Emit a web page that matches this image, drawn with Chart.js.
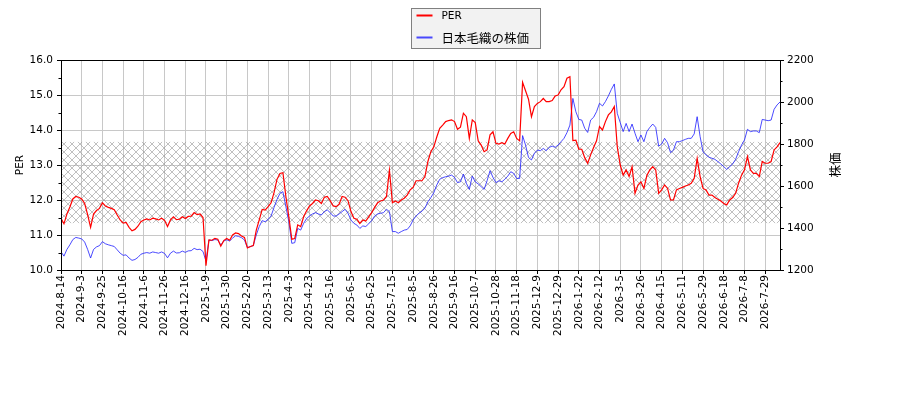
<!DOCTYPE html>
<html>
<head>
<meta charset="utf-8">
<script src="https://cdn.jsdelivr.net/npm/chart.js"></script>
<style>
html,body{margin:0;padding:0;background:#fff;}
#wrap{width:900px;height:400px;}
</style>
</head>
<body>
<div id="wrap"><canvas id="c" width="900" height="400"></canvas></div>
<script>
// ---- data ----
const tickLabels = ['2024-8-14','2024-9-3','2024-9-25','2024-10-16','2024-11-6','2024-11-26','2024-12-16',
  '2025-1-9','2025-1-30','2025-2-20','2025-3-13','2025-4-3','2025-4-23','2025-5-16','2025-6-5','2025-6-25',
  '2025-7-15','2025-8-5','2025-8-26','2025-9-16','2025-10-7','2025-10-28','2025-11-18','2025-12-9','2025-12-29',
  '2026-1-22','2026-2-12','2026-3-5','2026-3-26','2026-4-15','2026-5-11','2026-5-29','2026-6-18','2026-7-8','2026-7-29'];
const ticksEvery = 14;     // trading days between date labels
const sampleEvery = 2;     // trading days between samples
const totalDays = 487;

const perValues = [
  11.48,11.32,11.6,11.8,12.03,12.1,12.08,12.03,11.9,11.58,
  11.22,11.6,11.7,11.76,11.92,11.83,11.79,11.76,11.72,11.57,
  11.43,11.34,11.36,11.22,11.12,11.16,11.25,11.38,11.43,11.46,
  11.43,11.48,11.46,11.43,11.48,11.42,11.24,11.43,11.52,11.44,
  11.45,11.52,11.47,11.53,11.54,11.64,11.58,11.6,11.5,10.12,
  10.86,10.85,10.9,10.88,10.68,10.84,10.9,10.85,11.0,11.06,
  11.04,10.97,10.93,10.63,10.67,10.7,11.14,11.43,11.73,11.71,
  11.81,11.92,12.21,12.59,12.76,12.78,12.1,11.52,10.88,10.9,
  11.29,11.24,11.52,11.69,11.83,11.9,12.0,11.98,11.9,12.08,
  12.1,11.98,11.83,11.81,11.88,12.1,12.08,11.98,11.67,11.48,
  11.45,11.33,11.43,11.4,11.52,11.64,11.79,11.92,11.97,12.0,
  12.1,12.85,11.92,11.97,11.92,12.0,12.05,12.14,12.29,12.36,
  12.55,12.55,12.55,12.67,13.1,13.38,13.52,13.8,14.05,14.14,
  14.24,14.27,14.29,14.24,14.02,14.08,14.48,14.38,13.76,14.29,
  14.21,13.69,13.57,13.38,13.43,13.86,13.95,13.62,13.6,13.64,
  13.6,13.76,13.9,13.95,13.76,13.69,15.36,15.12,14.88,14.38,
  14.67,14.76,14.81,14.9,14.81,14.81,14.84,14.97,15.0,15.15,
  15.24,15.48,15.52,13.7,13.71,13.45,13.45,13.21,13.05,13.29,
  13.5,13.69,14.1,14.0,14.24,14.43,14.52,14.67,13.52,13.0,
  12.71,12.86,12.67,12.95,12.19,12.43,12.52,12.33,12.7,12.86,
  12.95,12.86,12.19,12.29,12.43,12.33,12.0,12.0,12.29,12.33,
  12.36,12.4,12.43,12.48,12.62,13.19,12.67,12.33,12.29,12.14,
  12.14,12.07,12.02,11.97,11.9,11.86,12.0,12.07,12.19,12.48,
  12.71,12.86,13.24,12.86,12.76,12.76,12.67,13.1,13.05,13.05,
  13.1,13.43,13.52,13.64
];

const priceValues = [
  1287,1266,1298,1320,1345,1355,1352,1348,1333,1298,
  1257,1298,1310,1316,1335,1325,1320,1316,1312,1296,
  1280,1270,1272,1257,1246,1250,1260,1275,1280,1283,
  1280,1286,1283,1280,1286,1279,1258,1280,1290,1281,
  1282,1290,1284,1291,1292,1303,1297,1299,1288,1242,
  1343,1340,1345,1343,1319,1338,1344,1338,1352,1363,
  1360,1354,1343,1307,1311,1317,1367,1407,1435,1430,
  1441,1457,1498,1536,1565,1573,1502,1430,1327,1330,
  1398,1390,1422,1445,1457,1467,1473,1467,1462,1478,
  1486,1473,1457,1457,1467,1478,1489,1470,1438,1422,
  1414,1398,1410,1407,1420,1435,1457,1467,1470,1473,
  1489,1478,1383,1383,1375,1383,1390,1393,1410,1438,
  1457,1470,1480,1495,1525,1545,1568,1605,1632,1640,
  1644,1647,1652,1641,1616,1620,1657,1613,1584,1647,
  1620,1610,1597,1584,1625,1673,1641,1616,1625,1620,
  1632,1647,1668,1660,1636,1636,1840,1795,1736,1724,
  1756,1771,1768,1779,1768,1784,1790,1784,1795,1811,
  1827,1854,1890,2017,1954,1917,1914,1875,1855,1914,
  1927,1954,1994,1981,2002,2029,2060,2086,1946,1902,
  1859,1898,1859,1895,1851,1811,1843,1811,1859,1879,
  1895,1879,1790,1800,1827,1806,1759,1771,1811,1811,
  1816,1822,1827,1827,1848,1930,1835,1763,1748,1737,
  1732,1727,1716,1705,1692,1679,1692,1705,1727,1763,
  1795,1819,1870,1859,1862,1862,1854,1917,1914,1911,
  1914,1965,1986,2000
];

const perBand = [11.34, 13.66];          // hatched PER range
const perTicks = [10, 11, 12, 13, 14, 15, 16];
const perMinorTicks = [10.5, 11.5, 12.5, 13.5, 14.5, 15.5];
const priceTicks = [1200, 1400, 1600, 1800, 2000, 2200];
const priceMinorTicks = [1300, 1500, 1700, 1900, 2100];

const seriesNames = ['PER', '日本毛織の株価'];
const seriesColors = ['#ff0000', 'rgba(30,30,255,0.8)'];
const axisTitles = ['PER', '株価'];

// ---- helpers ----
const latinFont = '"DejaVu Sans", "Noto Sans CJK JP", sans-serif';
const cjkFont = '"Noto Sans CJK JP", "DejaVu Sans", sans-serif';

function makeHatch() {
  const c = document.createElement('canvas');
  c.width = 8; c.height = 8;
  const g = c.getContext('2d');
  g.strokeStyle = 'rgba(150,150,150,0.6)';
  g.lineWidth = 1;
  g.beginPath();
  g.moveTo(-1, -1); g.lineTo(9, 9);
  g.moveTo(9, -1); g.lineTo(-1, 9);
  g.stroke();
  return c;
}

const decorPlugin = {
  id: 'decor',
  beforeDraw(chart) {
    const ctx = chart.ctx;
    ctx.save();
    ctx.fillStyle = '#ffffff';
    ctx.fillRect(0, 0, chart.width, chart.height);
    ctx.restore();
  },
  beforeDatasetsDraw(chart) {
    const ctx = chart.ctx, a = chart.chartArea, y = chart.scales.yPer;
    const top = y.getPixelForValue(perBand[1]);
    const bot = y.getPixelForValue(perBand[0]);
    ctx.save();
    ctx.fillStyle = ctx.createPattern(makeHatch(), 'repeat');
    ctx.fillRect(a.left, top, a.right - a.left, bot - top);
    ctx.restore();
  },
  afterDraw(chart) {
    const ctx = chart.ctx, a = chart.chartArea;
    const yl = chart.scales.yPer, yr = chart.scales.yPrice;
    ctx.save();
    // frame
    ctx.strokeStyle = '#000';
    ctx.lineWidth = 1;
    ctx.strokeRect(Math.round(a.left) + 0.5, Math.round(a.top) + 0.5,
      Math.round(a.right) - Math.round(a.left), Math.round(a.bottom) - Math.round(a.top));
    // minor ticks
    ctx.beginPath();
    perMinorTicks.forEach(v => {
      const p = Math.round(yl.getPixelForValue(v)) + 0.5;
      ctx.moveTo(a.left, p); ctx.lineTo(a.left - 2.5, p);
    });
    priceMinorTicks.forEach(v => {
      const p = Math.round(yr.getPixelForValue(v)) + 0.5;
      ctx.moveTo(a.right, p); ctx.lineTo(a.right + 2.5, p);
    });
    ctx.stroke();
    // axis titles
    const midY = (a.top + a.bottom) / 2;
    ctx.fillStyle = '#000';
    ctx.textAlign = 'center';
    ctx.textBaseline = 'middle';
    ctx.save();
    ctx.translate(20, midY);
    ctx.rotate(-Math.PI / 2);
    ctx.font = '10.5px ' + latinFont;
    ctx.fillText(axisTitles[0], 0, 0);
    ctx.restore();
    ctx.save();
    ctx.translate(835, midY);
    ctx.rotate(-Math.PI / 2);
    ctx.font = '12.5px ' + cjkFont;
    ctx.fillText(axisTitles[1], 0, 0);
    ctx.restore();
    // legend
    const lx = 411.5, ly = 8.5, lw = 129, lh = 40;
    ctx.fillStyle = '#f2f2f2';
    ctx.fillRect(lx, ly, lw, lh);
    ctx.strokeStyle = '#808080';
    ctx.strokeRect(lx, ly, lw, lh);
    const rows = [ly + 7, ly + 29];
    seriesNames.forEach((name, i) => {
      ctx.strokeStyle = seriesColors[i];
      ctx.lineWidth = 2;
      ctx.beginPath();
      ctx.moveTo(lx + 5, rows[i]); ctx.lineTo(lx + 21, rows[i]);
      ctx.stroke();
      ctx.fillStyle = '#000';
      ctx.textAlign = 'left';
      ctx.textBaseline = 'middle';
      ctx.font = (i === 0 ? '10.5px ' + latinFont : '12.5px ' + cjkFont);
      ctx.fillText(name, lx + 30, rows[i] + 0.5);
    });
    ctx.restore();
  }
};

const perPoints = perValues.map((v, i) => ({ x: i * sampleEvery, y: v }));
const pricePoints = priceValues.map((v, i) => ({ x: i * sampleEvery, y: v }));

const tickFont = { family: latinFont, size: 10.5 };

new Chart(document.getElementById('c'), {
  type: 'line',
  data: {
    datasets: [
      { label: seriesNames[0], data: perPoints, yAxisID: 'yPer', borderColor: seriesColors[0],
        borderWidth: 1.2, pointRadius: 0, tension: 0, fill: false },
      { label: seriesNames[1], data: pricePoints, yAxisID: 'yPrice', borderColor: seriesColors[1],
        borderWidth: 1, pointRadius: 0, tension: 0, fill: false }
    ]
  },
  options: {
    responsive: false,
    animation: false,
    devicePixelRatio: 1,
    layout: { padding: { top: 60, left: 0, right: 0, bottom: 0 } },
    plugins: { legend: { display: false }, tooltip: { enabled: false } },
    scales: {
      x: {
        type: 'linear',
        min: 0,
        max: totalDays - 1,
        afterBuildTicks: s => { s.ticks = tickLabels.map((l, i) => ({ value: i * ticksEvery })); },
        afterFit: s => { s.height = 130; },
        ticks: {
          autoSkip: false, minRotation: 90, maxRotation: 90, padding: 1,
          color: '#000', font: tickFont,
          callback: (v, i) => tickLabels[i]
        },
        grid: { color: '#c8c8c8', lineWidth: 1, tickLength: 4, tickColor: '#000' },
        border: { display: true, color: '#000', width: 1 }
      },
      yPer: {
        position: 'left',
        min: 10, max: 16,
        afterBuildTicks: s => { s.ticks = perTicks.map(v => ({ value: v })); },
        afterFit: s => { s.width = 61; },
        ticks: { color: '#000', font: tickFont, padding: 4, callback: v => Number(v).toFixed(1) },
        grid: { color: '#c8c8c8', lineWidth: 1, tickLength: 4, tickColor: '#000' },
        border: { display: true, color: '#000', width: 1 }
      },
      yPrice: {
        position: 'right',
        min: 1200, max: 2200,
        afterBuildTicks: s => { s.ticks = priceTicks.map(v => ({ value: v })); },
        afterFit: s => { s.width = 120; },
        ticks: { color: '#000', font: tickFont, padding: 3, callback: v => String(v) },
        grid: { drawOnChartArea: false, tickLength: 4, tickColor: '#000' },
        border: { display: true, color: '#000', width: 1 }
      }
    }
  },
  plugins: [decorPlugin]
});
</script>
</body>
</html>
